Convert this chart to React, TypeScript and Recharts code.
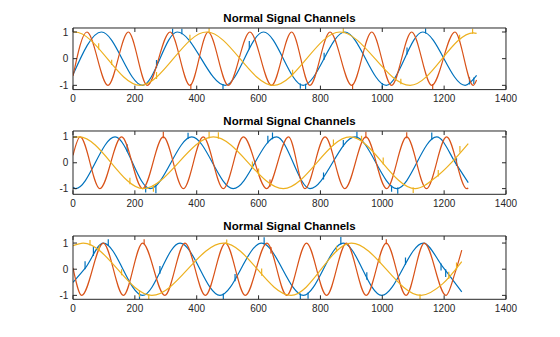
import { LineChart, Line, XAxis, YAxis } from "recharts";

const chartTitle = "Normal Signal Channels";
const xTicks = [0, 200, 400, 600, 800, 1000, 1200, 1400];
const yTicks = [-1, 0, 1];

// [sample, value]: start, peaks / troughs, end
const blue1 = [[0, -0.6], [92, 1], [225, -1], [337, 1], [492, -1], [616, 1], [744, -1], [879, 1], [1013, -1], [1131, 1], [1268, -1], [1305, -0.63]];
const orange1 = [[0, -0.65], [45, 1], [113, -1], [179, 1], [240, -1], [314, 1], [378, -1], [437, 1], [502, -1], [572, 1], [642, -1], [707, 1],
  [766, -1], [831, 1], [901, -1], [966, 1], [1030, -1], [1095, 1], [1160, -1], [1235, 1], [1294, -1], [1305, -0.8]];
const yellow1 = [[0, 0.99], [5, 1], [217, -1], [432, 1], [648, -1], [863, 1], [1090, -1], [1295, 0.97], [1305, 0.95]];

const blue2 = [[0, -0.95], [8, -1], [136, 1], [249, -1], [384, 1], [518, -1], [658, 1], [766, -1], [912, 1], [1047, -1], [1176, 1], [1240, -0.07], [1278, -0.77]];
const orange2 = [[0, 0.29], [23, 1], [87, -1], [157, 1], [225, -1], [292, 1], [357, -1], [421, 1], [486, -1], [551, 1], [626, -1], [697, 1],
  [750, -1], [815, 1], [879, -1], [947, 1], [1014, -1], [1079, 1], [1143, -1], [1208, 1], [1273, -1], [1278, -0.98]];
const yellow2 = [[0, 0.98], [20, 1], [227, -1], [454, 1], [680, -1], [896, 1], [1106, -1], [1181, -0.48], [1278, 0.74]];

const blue3 = [[0, -0.5], [40, 0.05], [98, 1], [225, -1], [346, 1], [475, -1], [610, 1], [745, -1], [874, 1], [998, -1], [1133, 1], [1195, 0.1], [1257, -0.87]];
const orange3 = [[0, 0.05], [28, -1], [98, 1], [163, -1], [225, 1], [297, -1], [362, 1], [428, -1], [493, 1], [557, -1], [627, 1], [691, -1],
  [755, 1], [820, -1], [884, 1], [948, -1], [1013, 1], [1077, -1], [1136, 1], [1206, -1], [1235, -0.15], [1257, 0.73]];
const yellow3 = [[0, 0.9], [33, 1], [255, -1], [487, 1], [705, -1], [900, 1], [1125, -1], [1195, -0.56], [1257, 0.29]];

// noise spikes: [sample, from, to]
const blue1Noise = [[270, -0.35, -0.05], [322, 0.87, 1.12], [352, 0.92, 1.12], [485, -0.95, -1.14], [570, 0.35, 0.66], [735, -0.93, -1.13],
  [752, -0.94, -1.14], [812, -0.04, 0.22], [1000, -0.91, -1.13], [1080, 0.16, 0.42], [1140, 0.94, 1.13], [1282, -0.97, -0.7], [1296, -0.71, -0.95]];
const orange1Noise = [[381, -0.95, -1.15], [904, -0.95, -1.15], [1163, -0.95, -1.14]];
const yellow1Noise = [[83, 0.34, 0.58], [125, -0.24, -0.04], [270, -0.76, -0.5], [378, 0.66, 0.9], [440, 0.95, 1.14], [710, -0.67, -0.42],
  [874, 0.95, 1.14], [1060, -0.96, -0.75], [1250, 0.68, 0.9], [1292, 0.93, 1.12]];

const blue2Noise = [[175, 0.44, 0.72], [235, -0.88, -1.15], [268, -0.86, -1.18], [372, 0.92, 1.16], [630, 0.76, 1.05], [645, 0.91, 1.17],
  [810, -0.65, -0.38], [874, 0.63, 0.88], [918, 0.95, 1.2], [1030, -0.88, -1.12], [1050, -0.96, -1.2], [1160, 0.88, 1.17], [1240, -0.12, 0.18]];
const orange2Noise = [[292, 0.95, 1.2], [637, -0.93, -0.65], [947, 0.95, 1.2], [1079, 0.95, 1.18]];
const yellow2Noise = [[184, -0.83, -0.58], [260, -0.86, -1.12], [440, 0.94, 1.2], [470, 0.93, 1.18], [580, -0.22, 0.05], [600, -0.48, -0.22],
  [842, 0.66, 0.9], [933, 0.81, 1.05], [1003, -0.07, 0.2], [1100, -0.96, -1.17], [1181, -0.53, -0.28], [1251, 0.4, 0.65]];

const blue3Noise = [[39, 0, 0.3], [66, 0.51, 0.85], [114, 0.89, 1.15], [215, -0.93, -1.14], [281, -0.17, 0.12], [486, -0.93, -1.14],
  [524, -0.46, -0.18], [618, 0.94, 1.22], [735, -0.93, -1.14], [760, -0.89, -1.13], [866, 0.94, 1.23], [950, -0.4, -0.12],
  [1075, 0.17, 0.45], [1190, 0.22, -0.05], [1205, 0, -0.3]];
const orange3Noise = [[230, 0.95, 1.15], [640, 0.85, 0.6], [1013, 0.95, 1.15]];
const yellow3Noise = [[55, 0.91, 1.12], [85, 0.7, 0.92], [157, -0.23, 0], [215, -0.8, -1.05], [245, -0.95, -1.14], [497, 0.95, 1.14],
  [610, -0.25, 0.03], [852, 0.66, 0.9], [992, 0.24, 0.48], [1122, -0.96, -1.14], [1215, -0.37, -0.1], [1240, -0.02, 0.26]];

const ink = "#262626";
const font = "'Liberation Sans', Arial, sans-serif";
const colors = { blue: "#0072BD", orange: "#D95319", yellow: "#EDB120" };
const toPts = (arr: number[][]) => arr.map(([x, y]) => ({ x, y }));
const toSpikes = (arr: number[][]) => arr.flatMap(([x, a, b]) => [{ x, y: a }, { x, y: b }, { x, y: null }]);

function Panel({ top, h, yDomain, blue, orange, yellow, blueN, orangeN, yellowN }: any) {
  const pad = 3;
  const tick = { fill: ink, fontSize: 10, fontFamily: font };
  const common = { dataKey: "y", strokeWidth: 1.2, dot: false, isAnimationActive: false };
  return (
    <div style={{ position: "absolute", left: 0, top: top - pad }}>
      <LineChart width={560} height={h + pad + 22} margin={{ top: pad - 1, right: 53, bottom: 0, left: 0 }}>
        <XAxis type="number" dataKey="x" domain={[0, 1400]} ticks={xTicks} interval={0} allowDataOverflow
          height={22} tickSize={-4} tickMargin={9.5} stroke={ink} tick={tick} />
        <XAxis xAxisId="top" orientation="top" type="number" dataKey="x" domain={[0, 1400]} ticks={xTicks} interval={0} allowDataOverflow
          height={1} tickSize={-4} tickMargin={0} stroke={ink} tickFormatter={() => ""} />
        <YAxis type="number" domain={yDomain} ticks={yTicks} interval={0} allowDataOverflow
          width={73} tickSize={-4} tickMargin={8.7} stroke={ink} tick={tick} />
        <YAxis yAxisId="right" orientation="right" type="number" domain={yDomain} ticks={yTicks} interval={0} allowDataOverflow
          width={1} tickSize={-4} tickMargin={0} stroke={ink} tickFormatter={() => ""} />
        <Line {...common} data={toPts(blue)} type="monotone" stroke={colors.blue} />
        <Line {...common} data={toSpikes(blueN)} type="linear" stroke={colors.blue} />
        <Line {...common} data={toPts(orange)} type="monotone" stroke={colors.orange} />
        <Line {...common} data={toSpikes(orangeN)} type="linear" stroke={colors.orange} />
        <Line {...common} data={toPts(yellow)} xAxisId="top" yAxisId="right" type="monotone" stroke={colors.yellow} />
        <Line {...common} data={toSpikes(yellowN)} xAxisId="top" yAxisId="right" type="linear" stroke={colors.yellow} />
      </LineChart>
    </div>
  );
}

export default function App() {
  const titles = [21.7, 124.7, 229.7];
  return (
    <div style={{ position: "absolute", left: 0, top: 0, width: 560, height: 337, background: "#fff" }}>
      <Panel top={27.7} h={61.6} yDomain={[-1.16, 1.15]} blue={blue1} orange={orange1} yellow={yellow1}
        blueN={blue1Noise} orangeN={orange1Noise} yellowN={yellow1Noise} />
      <Panel top={130.7} h={63.3} yDomain={[-1.22, 1.23]} blue={blue2} orange={orange2} yellow={yellow2}
        blueN={blue2Noise} orangeN={orange2Noise} yellowN={yellow2Noise} />
      <Panel top={235.7} h={63.3} yDomain={[-1.15, 1.27]} blue={blue3} orange={orange3} yellow={yellow3}
        blueN={blue3Noise} orangeN={orange3Noise} yellowN={yellow3Noise} />
      <svg width={560} height={337} style={{ position: "absolute", left: 0, top: 0, pointerEvents: "none" }}>
        {titles.map((y, i) => (
          <text key={i} x={289.5} y={y} textAnchor="middle" fontFamily={font} fontWeight="bold" fontSize={11.5} fill="#000">
            {chartTitle}
          </text>
        ))}
      </svg>
    </div>
  );
}
